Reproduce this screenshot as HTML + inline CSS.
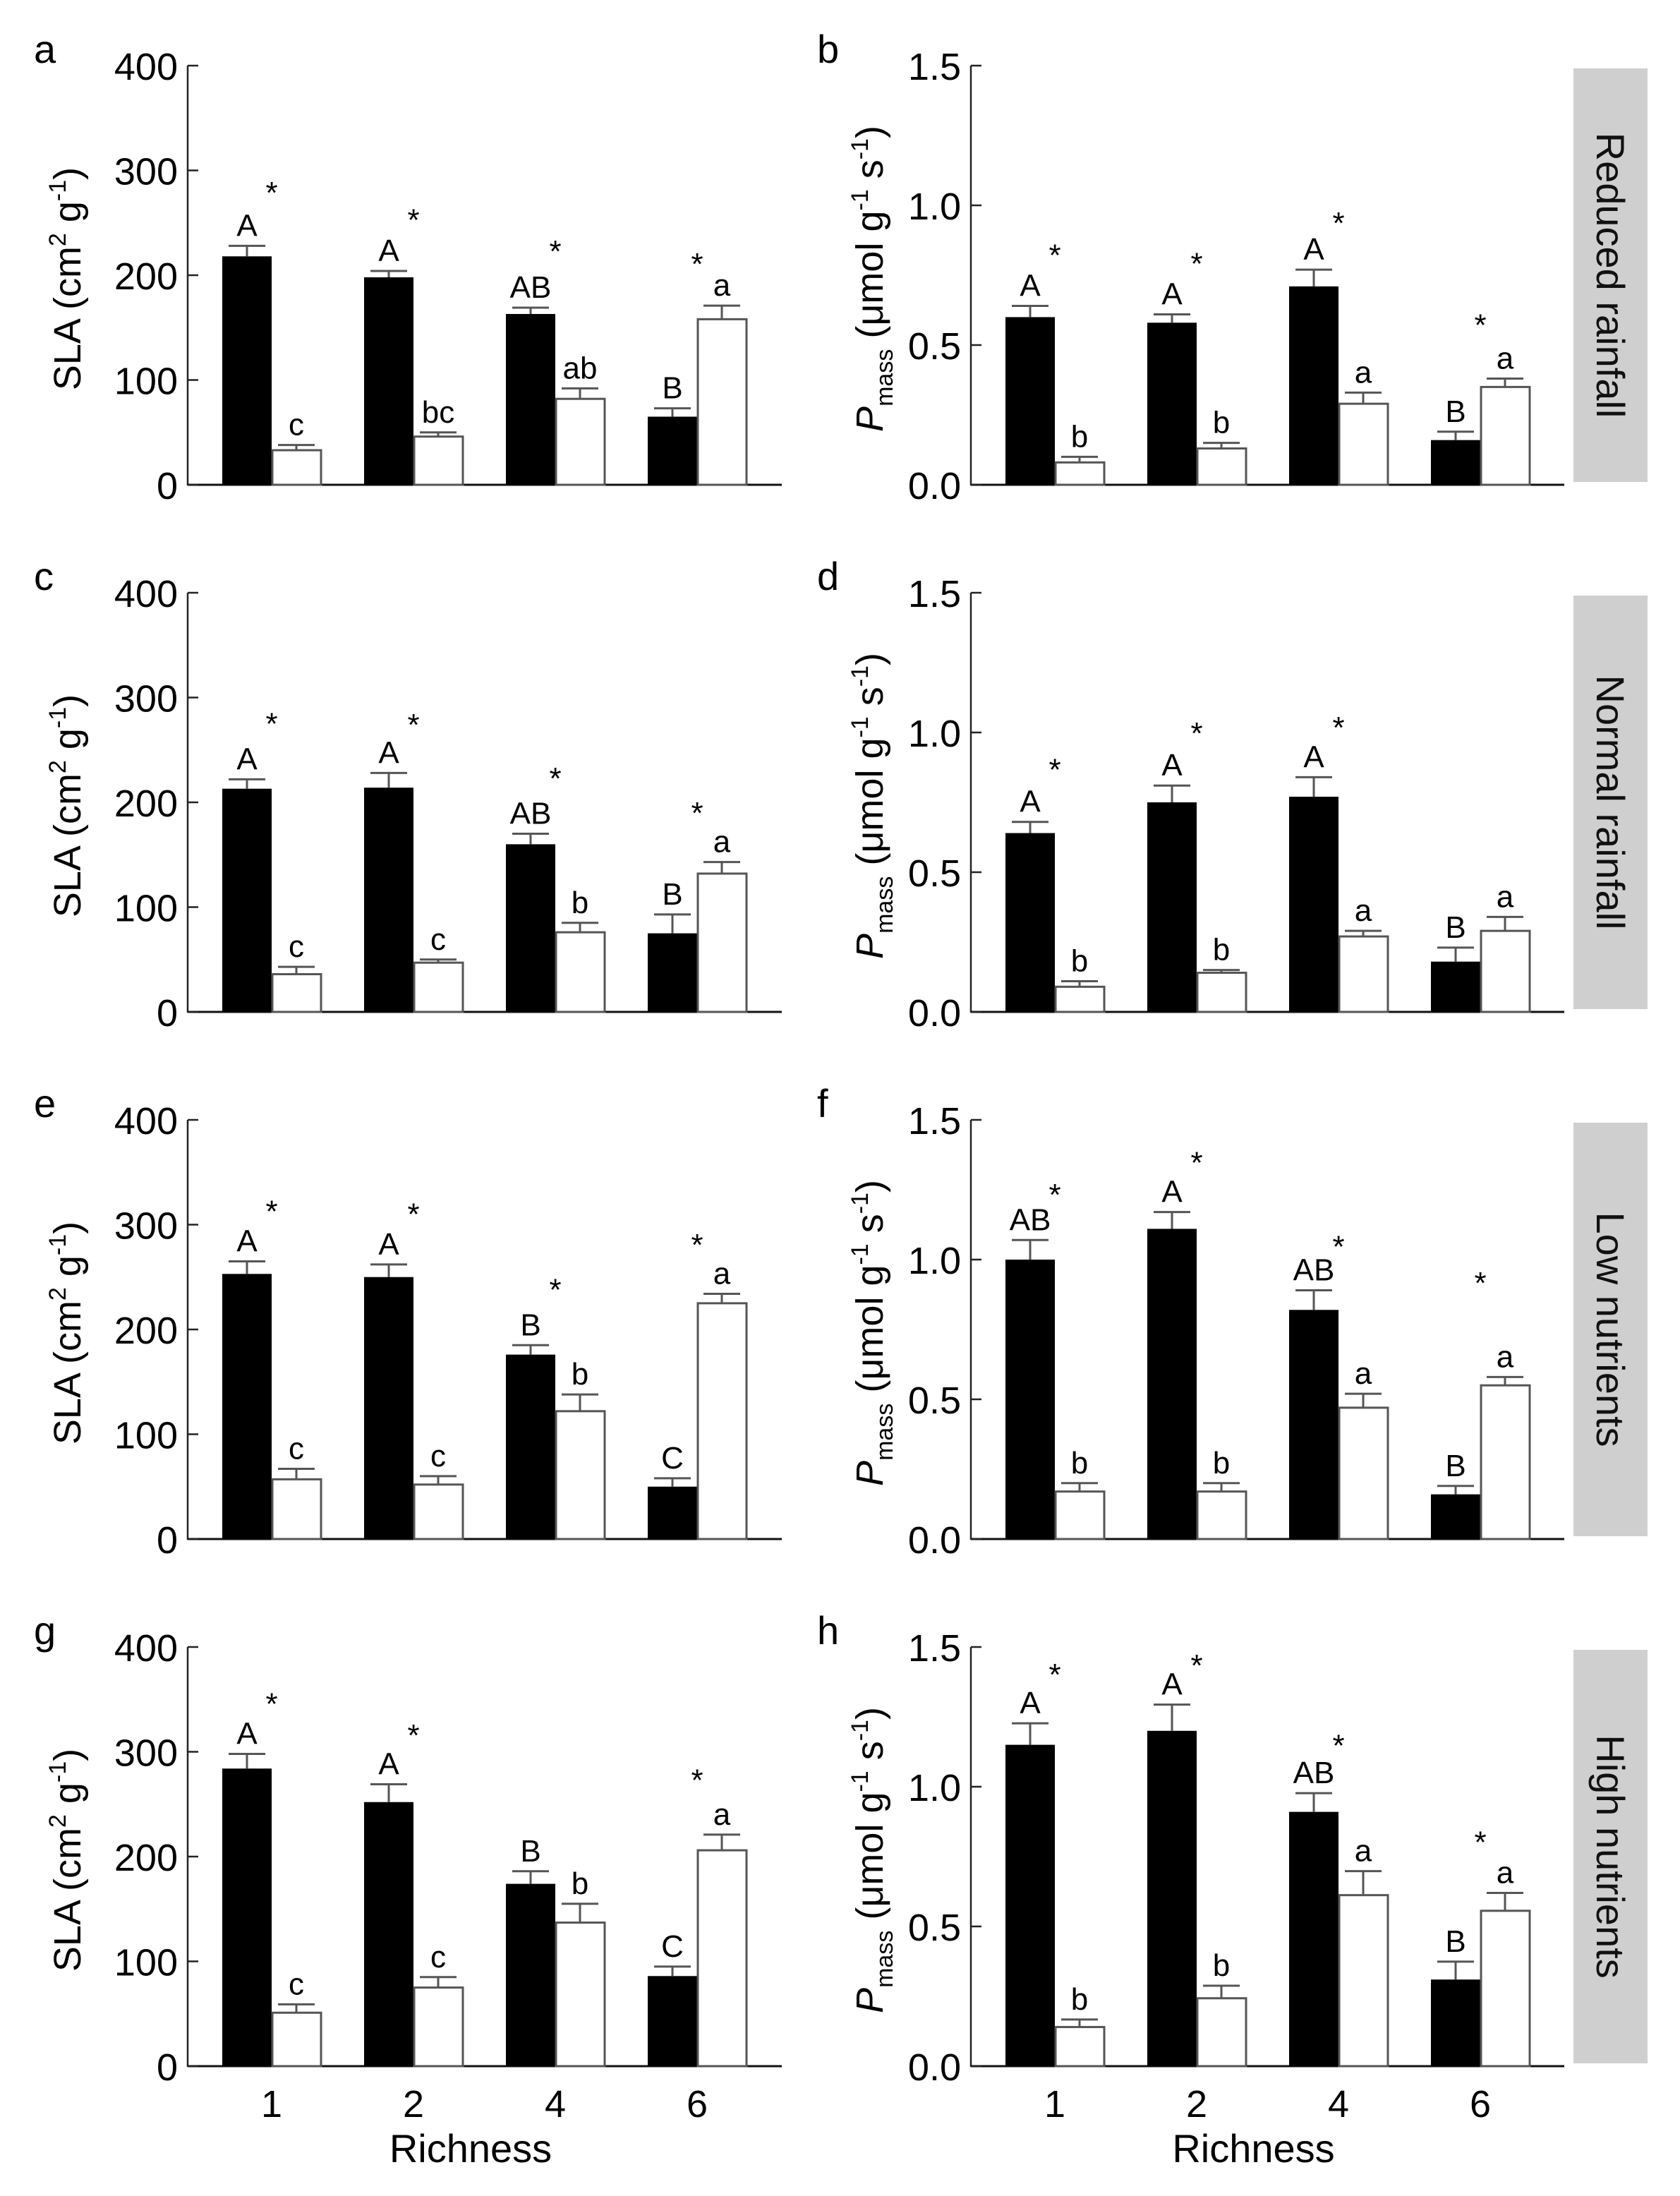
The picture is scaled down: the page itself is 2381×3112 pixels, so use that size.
<!DOCTYPE html>
<html><head><meta charset="utf-8"><style>
html,body{margin:0;padding:0;background:#fff}
svg{display:block;font-family:"Liberation Sans",Arial,sans-serif}
</style></head><body>
<svg id="fig" width="2381" height="3112" viewBox="0 0 2381 3112" xmlns="http://www.w3.org/2000/svg"></svg>
<script>
const categories = ["1","2","4","6"];
const panelLetters = ["a","b","c","d","e","f","g","h"];
const rowLabels = ["Reduced rainfall","Normal rainfall","Low nutrients","High nutrients"];
const slaTicks = [0,100,200,300,400];
const pTicks = ["0.0","0.5","1.0","1.5"];
// values per panel (a..h)
const blackVals = [[218,198,163,65],[0.60,0.58,0.71,0.16],[213,214,160,75],[0.64,0.75,0.77,0.18],[253,250,176,50],[1.00,1.11,0.82,0.16],[284,252,174,86],[1.15,1.20,0.91,0.31]];
const blackErr  = [[228,204,169,73],[0.64,0.61,0.77,0.19],[222,228,170,93],[0.68,0.81,0.84,0.23],[265,262,185,58],[1.07,1.17,0.89,0.19],[298,269,186,95],[1.227,1.294,0.977,0.374]];
const whiteVals = [[33,46,82,158],[0.08,0.13,0.29,0.35],[36,47,76,132],[0.09,0.14,0.27,0.29],[57,52,122,225],[0.17,0.17,0.47,0.55],[51,75,137,206],[0.14,0.243,0.612,0.556]];
const whiteErr  = [[38,50,92,171],[0.10,0.15,0.33,0.38],[43,50,85,143],[0.11,0.15,0.29,0.34],[67,60,138,234],[0.20,0.20,0.52,0.58],[59,85,155,221],[0.167,0.288,0.698,0.62]];
const blackLetters = [["A","A","AB","B"],["A","A","A","B"],["A","A","AB","B"],["A","A","A","B"],["A","A","B","C"],["AB","A","AB","B"],["A","A","B","C"],["A","A","AB","B"]];
const whiteLetters = [["c","bc","ab","a"],["b","b","a","a"],["c","c","b","a"],["b","b","a","a"],["c","c","b","a"],["b","b","a","a"],["c","c","b","a"],["b","b","a","a"]];
const starVals = [[285,259,229,217],[0.845,0.815,0.96,0.595],[281,280,229,196],[0.89,1.02,1.04,null],[319,316,244,287],[1.255,1.37,1.07,0.94],[352,322,null,279],[1.424,1.457,1.17,0.825]];

const NS="http://www.w3.org/2000/svg";
const svg=document.getElementById('fig');
function mk(tag,attrs,parent,text){const e=document.createElementNS(NS,tag);for(const k in attrs)e.setAttribute(k,attrs[k]);if(text!==undefined)e.textContent=text;(parent||svg).appendChild(e);return e;}

for(let p=0;p<8;p++){
  const row=Math.floor(p/2), col=p%2;
  const ax= col===0?266:1376;
  const right= col===0?1108:2217;
  const y0=687+747*row, yTop=93+747*row;
  const max= col===0?400:1.5;
  const ys=v=>y0-(v/max)*(y0-yTop);
  const g=mk('g',{});
  
  
  const pl=mk('text',{x:ax-218,y:yTop-4,'font-size':56},g,panelLetters[p]);
  
  
  const yaxis=mk('line',{x1:ax,y1:yTop,x2:ax,y2:y0+1,stroke:'#222','stroke-width':2.5},g);
  
  
  const xaxis=mk('line',{x1:ax,y1:y0,x2:right,y2:y0,stroke:'#111','stroke-width':3},g);
  
  
  const ticks = col===0?slaTicks:pTicks;
  ticks.forEach(t=>{
    const v=parseFloat(t), y=ys(v);
    const tl=mk('line',{x1:ax,y1:y,x2:ax+15,y2:y,stroke:'#222','stroke-width':2.5},g);
    
    
    const tt=mk('text',{x:ax-14,y:y+20,'font-size':54,'text-anchor':'end'},g,String(t));
    
    
  });
  const cy=(yTop+y0)/2;
  if(col===0){
    const t=mk('text',{x:0,y:0,'font-size':54,'text-anchor':'middle',transform:`translate(${ax-152},${cy+5}) rotate(-90)`},g);
    
    
    t.innerHTML='SLA (cm<tspan font-size="34" dy="-21">2</tspan><tspan dy="21"> g</tspan><tspan font-size="34" dy="-21">-1</tspan><tspan dy="21">)</tspan>';
  } else {
    const t=mk('text',{x:0,y:0,'font-size':54,'text-anchor':'middle',transform:`translate(${ax-125},${cy+5}) rotate(-90)`},g);
    
    
    t.innerHTML='<tspan font-style="italic">P</tspan><tspan font-size="34" dy="14">mass</tspan><tspan dy="-14"> (μmol g</tspan><tspan font-size="34" dy="-21">-1</tspan><tspan dy="21"> s</tspan><tspan font-size="34" dy="-21">-1</tspan><tspan dy="21">)</tspan>';
    const box=mk('rect',{x:2230,y:yTop+4,width:105,height:y0-yTop-8,fill:'#cfcfcf'},g);
    
    
    const rl=mk('text',{x:0,y:0,'font-size':56,'text-anchor':'middle',fill:'#111',transform:`translate(2263,${cy}) rotate(90)`},g,rowLabels[row]);
    
    
  }
  for(let i=0;i<4;i++){
    const c=ax+119+201*i;
    const bw=70;
    const bb=mk('rect',{x:c-bw,y:ys(blackVals[p][i]),width:bw,height:y0-ys(blackVals[p][i]),fill:'#000'},g);
    
    
    const wb=mk('rect',{x:c+1,y:ys(whiteVals[p][i]),width:bw-1,height:y0-ys(whiteVals[p][i]),fill:'#fff',stroke:'#555','stroke-width':3},g);
    
    
    [[c-bw/2,blackVals[p][i],blackErr[p][i],blackLetters[p][i]],[c+bw/2,whiteVals[p][i],whiteErr[p][i],whiteLetters[p][i]]].forEach(([x,v,e,l])=>{
      const eb=mk('path',{d:`M${x},${ys(v)}V${ys(e)}M${x-26},${ys(e)}H${x+26}`,stroke:'#555','stroke-width':3,fill:'none'},g);
      
      
      const lt=mk('text',{x:x,y:ys(e)-14,'font-size':44,'text-anchor':'middle'},g,l);
      
      
    });
    if(starVals[p][i]!==null){
      const st=mk('text',{x:c,y:ys(starVals[p][i])+24,'font-size':44,'text-anchor':'middle'},g,'*');
      
      
    }
    if(row===3){
      const xl=mk('text',{x:c,y:y0+72,'font-size':54,'text-anchor':'middle'},g,categories[i]);
      
      
    }
  }
  if(row===3){
    const xt=mk('text',{x:(ax+right)/2-20,y:y0+136,'font-size':56,'text-anchor':'middle'},g,'Richness');
    
    
  }
}
</script>
</body></html>
